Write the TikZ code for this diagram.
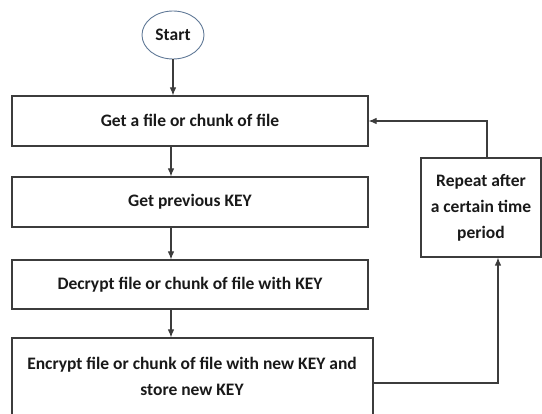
\documentclass[tikz,border=0pt]{standalone}
\usepackage{fontspec}
\setmainfont{Carlito}
\usetikzlibrary{arrows.meta,shapes.geometric}
\definecolor{linec}{RGB}{60,60,60}
\definecolor{ellc}{RGB}{95,120,150}
\definecolor{txtc}{RGB}{25,25,25}
\tikzset{
  boxnode/.style={draw=linec, line width=1.1pt, rectangle, inner sep=0pt},
  txt/.style={text=txtc, font=\bfseries\fontsize{17.5}{26}\selectfont, align=center, inner sep=0pt},
  conn/.style={draw=linec, line width=1.1pt, -{Latex[length=8pt,width=6.5pt]}},
}
\begin{document}
\begin{tikzpicture}[x=1pt, y=-1pt]
\useasboundingbox (0,0) rectangle (542,414);
\clip (0,0) rectangle (542,414);
\node[draw=ellc, line width=0.9pt, ellipse, minimum width=62pt, minimum height=48pt, inner sep=0pt, txt] (start) at (173,35) {Start};
\node[boxnode, minimum width=356pt, minimum height=50pt, txt] (b1) at (190,121) {\raisebox{2pt}{Get a file or chunk of file}};
\node[boxnode, minimum width=356pt, minimum height=50pt, txt] (b2) at (190,202) {\raisebox{2pt}{Get previous KEY}};
\node[boxnode, minimum width=356pt, minimum height=49pt, txt] (b3) at (190,284.5) {\raisebox{2pt}{Decrypt\ file or chunk of file with KEY}};
\node[boxnode, minimum width=361pt, minimum height=90pt] (b4) at (192.5,383) {};
\node[txt] (b4t) at (192,376) {Encrypt file or chunk of file with new KEY and\\store new KEY};
\node[boxnode, minimum width=120pt, minimum height=99pt, txt] (rep) at (481,207.5) {Repeat after\\a certain time\\period};
\draw[conn] (start.south) -- (start.south |- b1.north);
\draw[conn] (b1.south -| 171,0) -- (b2.north -| 171,0);
\draw[conn] (b2.south -| 171,0) -- (b3.north -| 171,0);
\draw[conn] (b3.south -| 171,0) -- (b4.north -| 171,0);
\draw[conn] (b4.east) -| ([xshift=17pt]rep.south);
\draw[conn] ([xshift=6pt]rep.north) |- (b1.east);
\end{tikzpicture}
\end{document}
